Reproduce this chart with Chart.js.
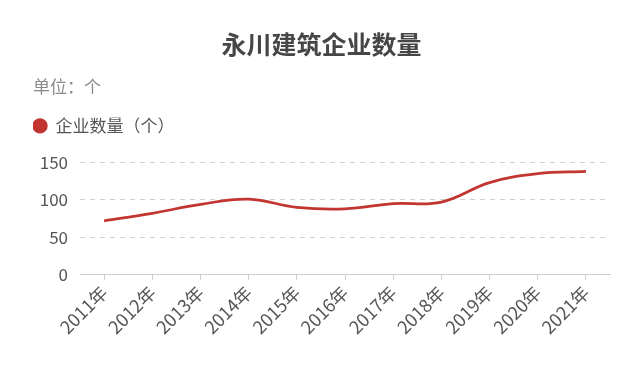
<!DOCTYPE html>
<html>
<head>
<meta charset="utf-8">
<script src="https://cdn.jsdelivr.net/npm/chart.js@4/dist/chart.umd.min.js"></script>
<style>
  html, body { margin: 0; padding: 0; background: #fff; }
  #wrap { width: 641px; height: 386px; position: relative; }
</style>
</head>
<body>
<div id="wrap"><canvas id="grafico"></canvas></div>
<script>
// dados do gráfico
const anos = ["2011年", "2012年", "2013年", "2014年", "2015年", "2016年", "2017年", "2018年", "2019年", "2020年", "2021年"];
const empresas = [72, 82, 94, 101, 90, 88, 95, 97, 123, 135, 138];
const yTicks = [0, 50, 100, 150];

const fonte = "'Noto Sans CJK SC', 'Noto Sans', sans-serif";

// espaço extra abaixo da legenda
const espacoLegenda = {
    id: "espacoLegenda",
    beforeInit(chart) {
        const fitOriginal = chart.legend.fit;
        chart.legend.fit = function () {
            fitOriginal.bind(chart.legend)();
            this.height += 18;
        };
    }
};

new Chart(document.getElementById("grafico"), {
    type: "line",
    data: {
        labels: anos,
        datasets: [{
            label: "企业数量（个）",
            data: empresas,
            borderColor: "#c23531",
            backgroundColor: "#c23531",
            borderWidth: 2.7,
            pointRadius: 0,
            tension: 0.4,
            fill: false
        }]
    },
    options: {
        responsive: true,
        maintainAspectRatio: false,
        animation: false,
        layout: { padding: { left: 33, right: 31, top: 0, bottom: 46 } },
        plugins: {
            title: {
                display: true,
                text: "永川建筑企业数量",
                color: "#464646",
                font: { family: fonte, size: 25, weight: "bold" },
                padding: { top: 29, bottom: 6 }
            },
            subtitle: {
                display: true,
                text: "单位：个",
                align: "start",
                color: "#8a8a8a",
                font: { family: fonte, size: 17 },
                padding: { top: 11, bottom: 21 }
            },
            legend: {
                display: true,
                align: "start",
                labels: {
                    usePointStyle: true,
                    pointStyle: "circle",
                    boxWidth: 14,
                    boxHeight: 9,
                    color: "#555",
                    font: { family: fonte, size: 17 },
                    padding: 0
                }
            },
            tooltip: { enabled: false }
        },
        scales: {
            x: {
                offset: true,
                afterFit: axis => { axis.paddingLeft = 0; axis.paddingRight = 0; },
                grid: { drawOnChartArea: false, drawTicks: true, tickLength: 5, color: "#ccc" },
                border: { display: true, color: "#ccc", width: 1 },
                ticks: {
                    color: "#555",
                    font: { family: fonte, size: 18 },
                    minRotation: 45,
                    maxRotation: 45,
                    padding: 2
                }
            },
            y: {
                min: 0,
                max: 150,
                afterBuildTicks: axis => { axis.ticks = yTicks.map(v => ({ value: v })); },
                afterFit: axis => { axis.width = 47; },
                border: { display: false, dash: [5, 5] },
                grid: {
                    color: ctx => ctx.tick && ctx.tick.value === 0 ? "rgba(0,0,0,0)" : "#cfcfcf",
                    drawTicks: false
                },
                ticks: {
                    color: "#555",
                    font: { family: fonte, size: 17 },
                    padding: 12
                }
            }
        }
    },
    plugins: [espacoLegenda]
});
</script>
</body>
</html>
